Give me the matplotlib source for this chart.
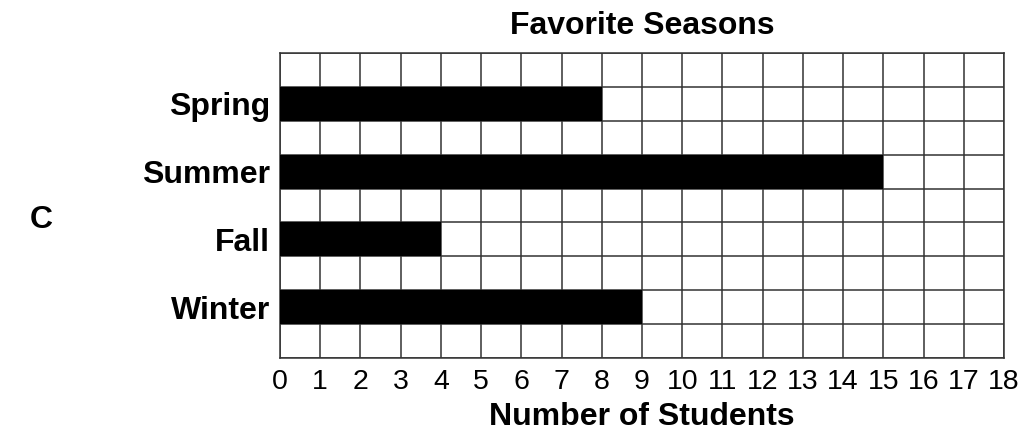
import matplotlib.pyplot as plt

plt.rcParams['font.family'] = ['Liberation Sans', 'DejaVu Sans']

# Datos de la gráfica
estaciones = ["Spring", "Summer", "Fall", "Winter"]
estudiantes = [8, 15, 4, 9]
filas = [1, 3, 5, 7]          # fila (desde arriba) de cada barra
max_x = 18
n_filas = 9

fig = plt.figure(figsize=(10.29, 4.38), dpi=100)
ax = fig.add_axes([0.2721, 0.1826, 0.7036, 0.6963])

ax.barh([f + 0.5 for f in filas], estudiantes, height=1.0, color="black", zorder=3)

ax.set_xlim(0, max_x)
ax.set_ylim(n_filas, 0)

# cuadrícula
for x in range(max_x + 1):
    ax.axvline(x, color="#333333", linewidth=1.1, zorder=2)
for y in range(n_filas + 1):
    ax.axhline(y, color="#333333", linewidth=1.1, zorder=2)

ax.set_xticks(range(max_x + 1))
ax.set_xticklabels([str(i) for i in range(max_x + 1)], fontsize=20.5)
ax.set_yticks([f + 0.5 for f in filas])
ax.set_yticklabels(estaciones, fontsize=23, fontweight="bold")
ax.tick_params(length=0, pad=8)
ax.tick_params(axis="y", pad=7)
for s in ax.spines.values():
    s.set_color("#333333")
    s.set_linewidth(1.1)

ax.set_title("Favorite Seasons", fontsize=23, fontweight="bold", pad=14)
ax.set_xlabel("Number of Students", fontsize=23, fontweight="bold", labelpad=5)

fig.text(0.04, 0.497, "C", fontsize=23, fontweight="bold", ha="center", va="center")

fig.savefig("out.png", dpi=100)
